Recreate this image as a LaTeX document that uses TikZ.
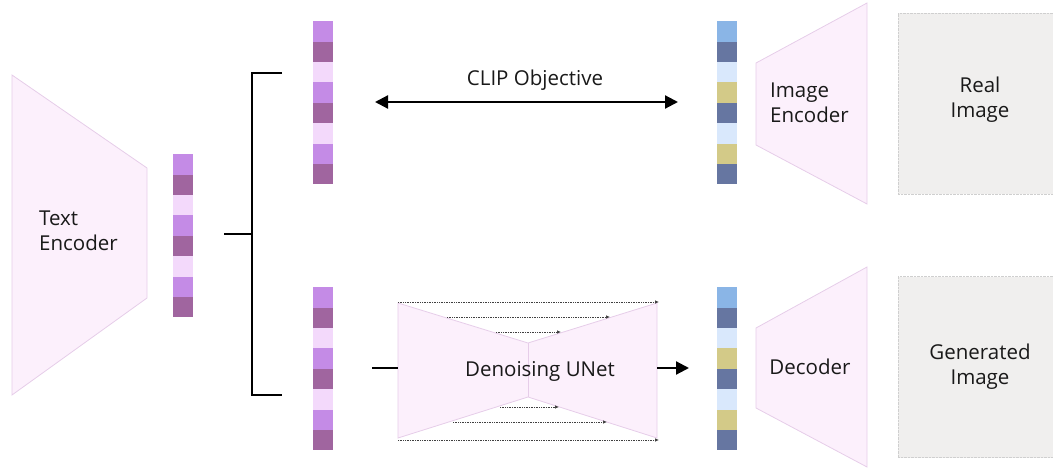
\documentclass[tikz,border=0pt]{standalone}
\usepackage{fontspec}
\setmainfont{Open Sans}
\usetikzlibrary{arrows.meta}

\definecolor{vioA}{HTML}{C48BE6}
\definecolor{vioB}{HTML}{A0659F}
\definecolor{vioC}{HTML}{F3D9FB}
\definecolor{bluA}{HTML}{8AB5E6}
\definecolor{bluB}{HTML}{6676A1}
\definecolor{bluC}{HTML}{D9E8FC}
\definecolor{khaki}{HTML}{D3CA88}
\definecolor{trapfill}{HTML}{FCF0FC}
\definecolor{trapline}{HTML}{E6CDE9}
\definecolor{boxfill}{HTML}{F0EFEE}
\definecolor{boxline}{HTML}{CFCFCF}

\begin{document}
\begin{tikzpicture}[
    x=1pt, y=-1pt,
    every node/.style={font=\fontsize{20.5}{25}\selectfont},
    trap/.style={draw=trapline, fill=trapfill, line width=0.8pt},
    cell/.style={minimum width=20pt, minimum height=20.4pt, inner sep=0pt, anchor=north west},
    txt/.style={align=center, inner sep=0pt, text=black!90},
    imgbox/.style={draw=boxline, densely dotted, fill=boxfill, minimum width=164pt, minimum height=181pt},
    link/.style={line width=2.6pt},
    arr/.style={line width=2.2pt},
    head/.tip={Triangle[length=13pt,width=13pt]},
    skip/.style={densely dotted, line width=0.7pt, draw=black!75, -{Latex[length=4pt,width=3.5pt]}}
]
\useasboundingbox (0,0) rectangle (1053,468);

% encoders and decoder
\draw[trap] (12,75) -- (147,168) -- (147,298) -- (12,395) -- cycle;
\node[txt, align=left, anchor=west] (txtenc) at (39,231) {Text\\Encoder};

\draw[trap] (756,63) -- (867,3) -- (867,204) -- (756,145) -- cycle;
\node[txt, align=left, anchor=west] (imgenc) at (770,103) {Image\\Encoder};

\draw[trap] (756,328) -- (867,267) -- (867,467) -- (756,408) -- cycle;
\node[txt] (dec) at (810,367) {Decoder};

% UNet
\draw[trap] (398,303) -- (528,343) -- (657,303) -- (657,438) -- (528,397) -- (398,438) -- cycle;
\draw[trapline, line width=0.8pt] (528,343) -- (528,397);
\node[txt] (unet) at (540,371) {Denoising UNet};

% images
\node[imgbox] (realimg) at (980,103.5) {};
\node[txt] (realtxt) at (980,99.5) {Real\\Image};
\node[imgbox] (genimg) at (980,367) {};
\node[txt] (gentxt) at (980,367) {Generated\\Image};

% embeddings
\foreach \c [count=\i] in {vioA,vioB,vioC,vioA,vioB,vioC,vioA,vioB} {
    \node[cell, fill=\c] (t\i) at (173,{154+(\i-1)*20.4}) {};
    \node[cell, fill=\c] (u\i) at (313,{21+(\i-1)*20.4}) {};
    \node[cell, fill=\c] (l\i) at (313,{287+(\i-1)*20.4}) {};
}
\foreach \c [count=\i] in {bluA,bluB,bluC,khaki,bluB,bluC,khaki,bluB} {
    \node[cell, fill=\c] (i\i) at (717,{21+(\i-1)*20.4}) {};
    \node[cell, fill=\c] (d\i) at (717,{287+(\i-1)*20.4}) {};
}

% bracket
\coordinate (brkin) at (224,234);
\coordinate (brkmid) at (252,234);
\coordinate (brktop) at (282,73);
\coordinate (brkbot) at (282,395);
\draw[link] (brkin) -- (brkmid);
\draw[link] (brktop) -| (brkmid) |- (brkbot);

% CLIP objective
\coordinate (clipL) at (375,102);
\coordinate (clipR) at (678,102);
\draw[arr, head-head] (clipL) -- (clipR);
\node[txt] (clip) at (535,80) {CLIP Objective};

% into and out of the UNet
\coordinate (unetin) at (372,368);
\coordinate (unetL) at (398,368);
\coordinate (unetR) at (657,368);
\coordinate (unetout) at (689,368);
\draw[arr] (unetin) -- (unetL);
\draw[arr, -head] (unetR) -- (unetout);

% skip connections
\coordinate (s1a) at (398,302); \coordinate (s1b) at (659,302);
\coordinate (s2a) at (447,317); \coordinate (s2b) at (610,317);
\coordinate (s3a) at (496,332); \coordinate (s3b) at (561,332);
\coordinate (s4a) at (500,407); \coordinate (s4b) at (559,407);
\coordinate (s5a) at (453,422); \coordinate (s5b) at (607,422);
\coordinate (s6a) at (398,440); \coordinate (s6b) at (659,440);
\draw[skip] (s1a) -- (s1b);
\draw[skip] (s2a) -- (s2b);
\draw[skip] (s3a) -- (s3b);
\draw[skip] (s4a) -- (s4b);
\draw[skip] (s5a) -- (s5b);
\draw[skip] (s6a) -- (s6b);

\end{tikzpicture}
\end{document}
